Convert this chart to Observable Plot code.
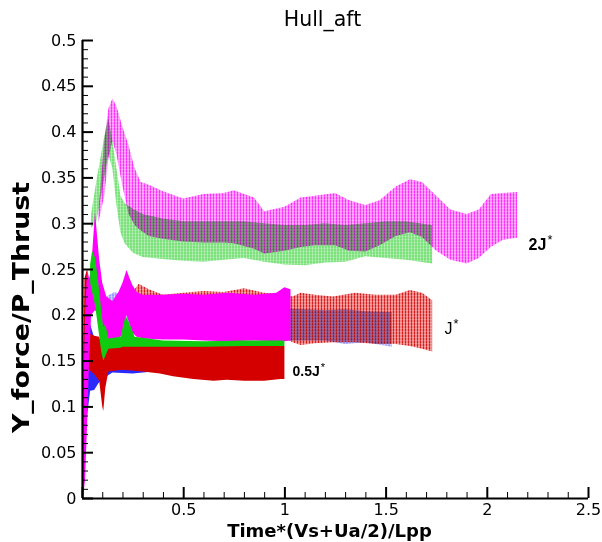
<!DOCTYPE html>
<html>
<head>
<meta charset="utf-8">
<script src="https://cdn.jsdelivr.net/npm/d3@7"></script>
<script src="https://cdn.jsdelivr.net/npm/@observablehq/plot@0.6"></script>
<style>
  html, body { margin: 0; padding: 0; background: #fff; }
  #chart svg { display: block; }
  #defs { position: absolute; width: 0; height: 0; }
</style>
</head>
<body>
<svg id="defs" width="0" height="0">
  <defs>
    <pattern id="pm" width="3" height="3" patternUnits="userSpaceOnUse">
      <rect width="3" height="3" fill="#ff00ff" fill-opacity="0.42"/>
      <rect width="1" height="3" fill="#ff00ff" fill-opacity="0.7"/>
      <rect y="1" width="3" height="0.8" fill="#ffffff" fill-opacity="0.25"/>
    </pattern>
    <pattern id="pg" width="3" height="3" patternUnits="userSpaceOnUse">
      <rect width="3" height="3" fill="#22cc22" fill-opacity="0.4"/>
      <rect x="1.5" width="1" height="3" fill="#22cc22" fill-opacity="0.65"/>
      <rect y="2" width="3" height="0.8" fill="#ffffff" fill-opacity="0.25"/>
    </pattern>
    <pattern id="pr" width="3" height="3" patternUnits="userSpaceOnUse">
      <rect width="3" height="3" fill="#e01010" fill-opacity="0.5"/>
      <rect width="1" height="3" fill="#d00000" fill-opacity="0.8"/>
      <rect y="1" width="3" height="0.8" fill="#ffffff" fill-opacity="0.25"/>
    </pattern>
    <pattern id="pb" width="3" height="3" patternUnits="userSpaceOnUse">
      <rect width="3" height="3" fill="#3838ff" fill-opacity="0.26"/>
      <rect x="1.5" width="1" height="3" fill="#2020ff" fill-opacity="0.55"/>
      <rect y="2" width="3" height="0.8" fill="#ffffff" fill-opacity="0.25"/>
    </pattern>
  </defs>
</svg>
<div id="chart"></div>
<script>
// ---------- axis ticks ----------
const yTicks = [0, 0.05, 0.1, 0.15, 0.2, 0.25, 0.3, 0.35, 0.4, 0.45, 0.5];
const yMinor = [0.01,0.02,0.03,0.04,0.06,0.07,0.08,0.09,0.11,0.12,0.13,0.14,0.16,0.17,0.18,0.19,0.21,0.22,0.23,0.24,0.26,0.27,0.28,0.29,0.31,0.32,0.33,0.34,0.36,0.37,0.38,0.39,0.41,0.42,0.43,0.44,0.46,0.47,0.48,0.49];
const xTicks = [0, 0.5, 1, 1.5, 2, 2.5];
const xTickLabels = [0.5, 1, 1.5, 2, 2.5];
const xMinor = [0.1,0.2,0.3,0.4,0.6,0.7,0.8,0.9,1.1,1.2,1.3,1.4,1.6,1.7,1.8,1.9,2.1,2.2,2.3,2.4];

// ---------- 2J* : green (dotted band) ----------
const g2x  = [0.045,0.07,0.09,0.11,0.13,0.15,0.17,0.19,0.21,0.25,0.30,0.40,0.50,0.60,0.70,0.80,0.90,1.00,1.10,1.20,1.30,1.40,1.50,1.60,1.73];
const g2lo = [0.295,0.30,0.325,0.35,0.375,0.36,0.32,0.29,0.278,0.268,0.263,0.261,0.259,0.258,0.26,0.262,0.258,0.255,0.254,0.257,0.258,0.264,0.262,0.26,0.256];
const g2hi = [0.31,0.345,0.37,0.395,0.415,0.39,0.36,0.33,0.322,0.316,0.31,0.305,0.302,0.302,0.302,0.302,0.30,0.298,0.298,0.30,0.298,0.30,0.302,0.302,0.298];

// ---------- 2J* : magenta (dotted band) ----------
const m2x  = [0.08,0.11,0.13,0.15,0.17,0.20,0.23,0.26,0.29,0.33,0.40,0.50,0.60,0.70,0.75,0.85,0.90,1.00,1.08,1.15,1.25,1.32,1.40,1.47,1.55,1.62,1.68,1.75,1.82,1.90,1.96,2.02,2.08,2.15];
const m2lo = [0.30,0.33,0.37,0.39,0.375,0.34,0.31,0.298,0.292,0.286,0.283,0.28,0.279,0.279,0.278,0.272,0.267,0.27,0.274,0.276,0.276,0.27,0.269,0.276,0.286,0.29,0.285,0.27,0.26,0.256,0.262,0.274,0.282,0.284];
const m2hi = [0.31,0.39,0.425,0.436,0.428,0.405,0.385,0.36,0.345,0.342,0.335,0.327,0.332,0.333,0.336,0.328,0.313,0.318,0.328,0.33,0.333,0.325,0.32,0.325,0.34,0.348,0.345,0.33,0.315,0.31,0.315,0.332,0.333,0.334];

// ---------- J* : blue (dotted band) ----------
const bdx  = [0.12,0.16,0.20,0.30,0.50,0.70,0.90,1.00,1.10,1.20,1.30,1.40,1.53];
const bdlo = [0.18,0.185,0.185,0.178,0.177,0.176,0.175,0.172,0.172,0.172,0.168,0.17,0.165];
const bdhi = [0.22,0.225,0.222,0.212,0.21,0.21,0.208,0.207,0.206,0.205,0.206,0.204,0.203];

// ---------- J* : red (dotted band) ----------
const rdx  = [0.25,0.28,0.33,0.40,0.50,0.60,0.70,0.80,0.90,1.00,1.04,1.08,1.15,1.24,1.35,1.45,1.55,1.62,1.68,1.73];
const rdlo = [0.19,0.185,0.18,0.178,0.177,0.176,0.175,0.175,0.175,0.175,0.17,0.167,0.169,0.17,0.17,0.168,0.168,0.166,0.163,0.16];
const rdhi = [0.225,0.234,0.228,0.222,0.224,0.226,0.225,0.229,0.224,0.222,0.22,0.224,0.222,0.22,0.224,0.222,0.222,0.227,0.224,0.216];

// ---------- 0.5J* : blue (solid band) ----------
const bsx  = [0.0,0.01,0.02,0.04,0.06,0.08,0.10,0.15,0.25,0.35,0.45,0.50];
const bslo = [0.0,0.03,0.08,0.117,0.118,0.125,0.13,0.137,0.136,0.138,0.136,0.135];
const bshi = [0.0,0.12,0.2,0.19,0.175,0.17,0.165,0.17,0.17,0.17,0.17,0.168];

// ---------- 0.5J* : red (solid band) ----------
const rsx  = [0.0,0.012,0.025,0.035,0.06,0.085,0.10,0.105,0.115,0.13,0.20,0.30,0.385,0.45,0.55,0.65,0.715,0.80,0.90,0.98,1.0];
const rslo = [0.0,0.05,0.14,0.14,0.135,0.128,0.10,0.095,0.12,0.138,0.14,0.138,0.136,0.133,0.13,0.128,0.129,0.128,0.128,0.13,0.13];
const rshi = [0.005,0.24,0.25,0.18,0.177,0.176,0.165,0.16,0.165,0.167,0.167,0.166,0.166,0.166,0.166,0.166,0.167,0.166,0.166,0.167,0.166];

// ---------- solid magenta band ----------
const msx  = [0.0,0.005,0.015,0.025,0.035,0.045,0.064,0.085,0.10,0.12,0.15,0.18,0.20,0.22,0.235,0.25,0.27,0.30,0.40,0.50,0.60,0.72,0.85,0.96,1.00,1.03];
const mslo = [0.0,0.0,0.02,0.08,0.15,0.2,0.205,0.2,0.19,0.175,0.17,0.175,0.178,0.2,0.19,0.18,0.176,0.174,0.173,0.173,0.172,0.171,0.172,0.171,0.171,0.172];
const mshi = [0.0,0.1,0.2,0.25,0.24,0.25,0.312,0.26,0.235,0.22,0.215,0.225,0.235,0.249,0.24,0.232,0.225,0.222,0.222,0.223,0.222,0.224,0.222,0.224,0.23,0.228];

// ---------- solid green band ----------
const gsx  = [0.04,0.05,0.065,0.08,0.095,0.105,0.115,0.13,0.19,0.20,0.215,0.235,0.26,0.40,0.60,0.80,1.00];
const gslo = [0.235,0.225,0.21,0.185,0.16,0.15,0.155,0.163,0.164,0.165,0.165,0.165,0.165,0.165,0.165,0.166,0.166];
const gshi = [0.255,0.27,0.262,0.235,0.205,0.185,0.19,0.174,0.176,0.185,0.199,0.19,0.176,0.172,0.171,0.172,0.172];

// ---------- case labels ----------
const caseText = ["2J*", "J*", "0.5J*"];
const caseX    = [2.204, 1.789, 1.0375];
const caseY    = [0.2774, 0.1856, 0.139];
const caseBold = [true, false, true];
const caseSize = [16, 16, 14];

const band = (xs, lo, hi) => xs.map((x, i) => ({x, lo: lo[i], hi: hi[i]}));
const cases = caseText.map((t, i) => ({t, x: caseX[i], y: caseY[i], b: caseBold[i], s: caseSize[i]}));

const plotW = 602 - 82 - 14, plotH = 542 - 40 - 44;
const dotted = {x: "x", y1: "lo", y2: "hi", mixBlendMode: "multiply"};
const solid = {x: "x", y1: "lo", y2: "hi"};

const chart = Plot.plot({
  width: 602, height: 542,
  marginLeft: 82, marginRight: 14, marginTop: 40, marginBottom: 44,
  style: {fontFamily: "DejaVu Sans", fontSize: "16px", background: "#fff", color: "#000"},
  x: {domain: [0, 2.5], ticks: xTickLabels, tickSize: 0, tickPadding: 5, tickFormat: d => String(d), label: null},
  y: {domain: [0, 0.5], ticks: yTicks, tickSize: 0, tickPadding: 6, tickFormat: d => String(d), label: null},
  marks: [
    Plot.areaY(band(g2x, g2lo, g2hi), {...dotted, fill: "url(#pg)"}),
    Plot.areaY(band(m2x, m2lo, m2hi), {...dotted, fill: "url(#pm)"}),
    Plot.areaY(band(bdx, bdlo, bdhi), {...dotted, fill: "url(#pb)"}),
    Plot.areaY(band(rdx, rdlo, rdhi), {...dotted, fill: "url(#pr)"}),
    Plot.areaY(band(bsx, bslo, bshi), {...solid, fill: "#2a2aff"}),
    Plot.areaY(band(rsx, rslo, rshi), {...solid, fill: "#d40000"}),
    Plot.areaY(band(msx, mslo, mshi), {...solid, fill: "#ff00ff"}),
    Plot.areaY(band(gsx, gslo, gshi), {...solid, fill: "#10cc10"}),
    // axis lines and inward ticks
    Plot.tickY(yTicks, {y: d => d, insetRight: plotW - 11, strokeWidth: 2}),
    Plot.tickY(yMinor, {y: d => d, insetRight: plotW - 6, strokeWidth: 1}),
    Plot.tickX(xTicks, {x: d => d, insetTop: plotH - 11, strokeWidth: 2}),
    Plot.tickX(xMinor, {x: d => d, insetTop: plotH - 6, strokeWidth: 1}),
    Plot.ruleX([0], {strokeWidth: 2.2}),
    Plot.ruleY([0], {strokeWidth: 2.2}),
    // case labels
    Plot.text(cases.filter(d => d.b), {x: "x", y: "y", text: "t", textAnchor: "start", lineAnchor: "middle",
      fontFamily: "Liberation Sans", fontWeight: "bold", fontSize: "s"}),
    Plot.text(cases.filter(d => !d.b), {x: "x", y: "y", text: "t", textAnchor: "start", lineAnchor: "middle",
      fontFamily: "Liberation Sans", fontSize: "s"}),
    // title and axis labels
    Plot.text(["Hull_aft"], {frameAnchor: "top", textAnchor: "middle", dx: -13, dy: -21.4, lineAnchor: "middle", fontSize: 20.5}),
    Plot.text(["Time*(Vs+Ua/2)/Lpp"], {frameAnchor: "bottom", textAnchor: "middle", dx: -6, dy: 33, lineAnchor: "middle", fontSize: 18, fontWeight: "bold"}),
    Plot.text(["Y_force/P_Thrust"], {frameAnchor: "left", textAnchor: "middle", rotate: -90, dx: -61, dy: 38, lineAnchor: "middle", fontSize: 23, fontWeight: "bold"})
  ]
});

document.getElementById("chart").append(chart);

// superscript asterisk in case labels
d3.select(chart).selectAll("text").filter(function () { return caseText.includes(this.textContent); })
  .each(function () {
    const t = this.textContent;
    this.textContent = t.slice(0, -1);
    d3.select(this).append("tspan").attr("dx", "1").attr("dy", "-0.4em").attr("font-size", "0.8em").attr("font-weight", "normal").text("*");
  });
d3.select(chart).selectAll("text").filter(function () { return this.textContent === "Y_force/P_Thrust"; })
  .attr("textLength", 251).attr("lengthAdjust", "spacingAndGlyphs");
</script>
</body>
</html>
